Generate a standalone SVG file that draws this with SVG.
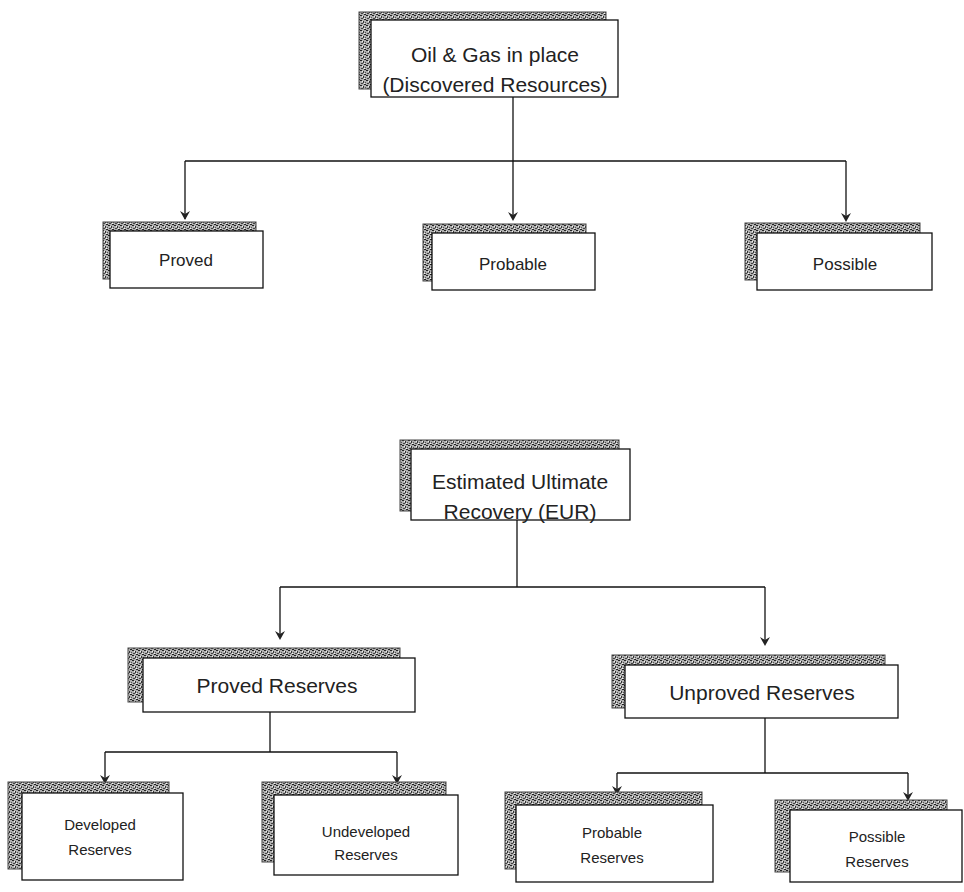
<svg xmlns="http://www.w3.org/2000/svg" width="964" height="892" viewBox="0 0 964 892">
<defs>
<pattern id="ht" width="6" height="5" patternUnits="userSpaceOnUse">
<rect width="6" height="5" fill="#b0b0b0"/>
<rect x="0" y="0" width="2" height="1" fill="#222"/>
<rect x="3" y="1" width="1" height="2" fill="#333"/>
<rect x="1" y="3" width="2" height="1" fill="#444"/>
<rect x="4" y="4" width="2" height="1" fill="#222"/>
<rect x="5" y="2" width="1" height="1" fill="#555"/>
<rect x="2" y="1" width="1" height="1" fill="#eee"/>
<rect x="4" y="3" width="1" height="1" fill="#f4f4f4"/>
</pattern>
</defs>
<style>
.bk{fill:url(#ht);stroke:#444;stroke-width:1}
.bx{fill:#fff;stroke:#111;stroke-width:1.3}
.t{font-family:"Liberation Sans",Arial,sans-serif;fill:#222;text-anchor:middle}
.l{font-size:21px}
.m{font-size:17px}
.s{font-size:15px}
.c{fill:none;stroke:#111;stroke-width:1.3}
</style>
<rect width="964" height="892" fill="#fff"/>

<g id="connectors">
<path class="c" d="M513,97 V216"/>
<path class="c" d="M185,161 H846"/>
<path class="c" d="M185,161 V219"/>
<path class="c" d="M846,161 V220"/>
<path class="c" d="M517,520 V587"/>
<path class="c" d="M280,587 H765"/>
<path class="c" d="M280,587 V638"/>
<path class="c" d="M765,587 V643"/>
<path class="c" d="M270,712 V752"/>
<path class="c" d="M105,752 H397"/>
<path class="c" d="M105,752 V782"/>
<path class="c" d="M397,752 V782"/>
<path class="c" d="M765,718 V773"/>
<path class="c" d="M617,773 H908"/>
<path class="c" d="M617,773 V792"/>
<path class="c" d="M908,773 V798"/>
<g fill="#222">
<path d="M180,211 L185,220 L190,211 L185,214 Z"/>
<path d="M508,212 L513,221 L518,212 L513,215 Z"/>
<path d="M841,213 L846,222 L851,213 L846,216 Z"/>
<path d="M275,631 L280,640 L285,631 L280,634 Z"/>
<path d="M760,637 L765,646 L770,637 L765,640 Z"/>
<path d="M100,775 L105,784 L110,775 L105,778 Z"/>
<path d="M392,775 L397,784 L402,775 L397,778 Z"/>
<path d="M612,786 L617,795 L622,786 L617,789 Z"/>
<path d="M903,792 L908,801 L913,792 L908,795 Z"/>
</g>
</g>

<g id="n-oilgas">
<rect class="bk" x="359" y="12" width="247" height="77"/>
<rect class="bx" x="371" y="20" width="247" height="77"/>
<text class="t l" x="495" y="62">Oil &amp; Gas in place</text>
<text class="t l" x="495" y="92">(Discovered Resources)</text>
</g>

<g id="n-proved">
<rect class="bk" x="103" y="222" width="153" height="57"/>
<rect class="bx" x="110" y="231" width="153" height="57"/>
<text class="t m" x="186" y="266">Proved</text>
</g>

<g id="n-probable">
<rect class="bk" x="423" y="224" width="163" height="57"/>
<rect class="bx" x="432" y="233" width="163" height="57"/>
<text class="t m" x="513" y="270">Probable</text>
</g>

<g id="n-possible">
<rect class="bk" x="745" y="223" width="175" height="57"/>
<rect class="bx" x="757" y="233" width="175" height="57"/>
<text class="t m" x="845" y="270">Possible</text>
</g>

<g id="n-eur">
<rect class="bk" x="400" y="440" width="219" height="71"/>
<rect class="bx" x="411" y="449" width="219" height="71"/>
<text class="t l" x="520" y="489">Estimated Ultimate</text>
<text class="t l" x="520" y="519">Recovery (EUR)</text>
</g>

<g id="n-provedres">
<rect class="bk" x="128" y="648" width="272" height="54"/>
<rect class="bx" x="143" y="658" width="272" height="54"/>
<text class="t l" x="277" y="693">Proved Reserves</text>
</g>

<g id="n-unprovedres">
<rect class="bk" x="612" y="655" width="273" height="53"/>
<rect class="bx" x="625" y="665" width="273" height="53"/>
<text class="t l" x="762" y="700">Unproved Reserves</text>
</g>

<g id="n-developed">
<rect class="bk" x="8" y="782" width="161" height="87"/>
<rect class="bx" x="22" y="793" width="161" height="87"/>
<text class="t s" x="100" y="830">Developed</text>
<text class="t s" x="100" y="855">Reserves</text>
</g>

<g id="n-undeveloped">
<rect class="bk" x="262" y="782" width="184" height="80"/>
<rect class="bx" x="274" y="795" width="184" height="80"/>
<text class="t s" x="366" y="837">Undeveloped</text>
<text class="t s" x="366" y="860">Reserves</text>
</g>

<g id="n-probableres">
<rect class="bk" x="505" y="792" width="197" height="77"/>
<rect class="bx" x="516" y="805" width="197" height="77"/>
<text class="t s" x="612" y="838">Probable</text>
<text class="t s" x="612" y="863">Reserves</text>
</g>

<g id="n-possibleres">
<rect class="bk" x="775" y="800" width="172" height="72"/>
<rect class="bx" x="790" y="810" width="172" height="72"/>
<text class="t s" x="877" y="842">Possible</text>
<text class="t s" x="877" y="867">Reserves</text>
</g>
</svg>
